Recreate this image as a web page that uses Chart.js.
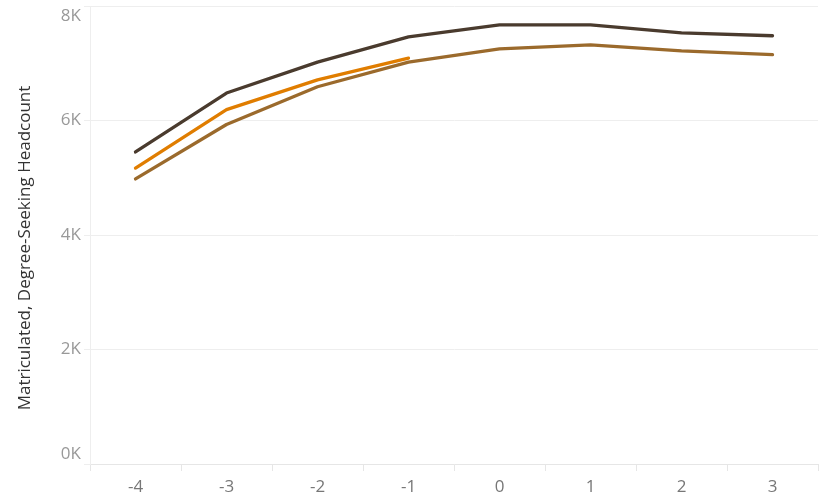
<!DOCTYPE html>
<html>
<head>
<meta charset="utf-8">
<script src="https://cdn.jsdelivr.net/npm/chart.js@4/dist/chart.umd.min.js"></script>
<style>
	body { margin: 0; background: #fff; }
	#mycanvas { display: block; }
</style>
</head>
<body>
<canvas id="mycanvas" width="821" height="495"></canvas>
<script>
// years relative to the reference year, and headcount for each group
var years = ["-4", "-3", "-2", "-1", "0", "1", "2", "3"];
var darkSeries = [5450, 6480, 7020, 7460, 7670, 7670, 7530, 7480];
var orangeSeries = [5170, 6190, 6710, 7090, null, null, null, null];
var brownSeries = [4980, 5930, 6590, 7020, 7250, 7320, 7215, 7150];
var yTicks = [0, 2000, 4000, 6000, 8000];
var yTitle = "Matriculated, Degree-Seeking Headcount";

// y axis title, centred on the whole pane like the original
var yTitlePlugin = {
	id: 'yTitle',
	afterDraw: function(chart) {
		var c = chart.ctx;
		c.save();
		c.translate(25, 248);
		c.rotate(-Math.PI / 2);
		c.font = "17px 'Open Sans'";
		c.fillStyle = "#333";
		c.textAlign = "center";
		c.textBaseline = "middle";
		c.fillText(yTitle, 0, 0);
		c.restore();
	}
};

var ctx = document.getElementById("mycanvas");

var lineChart = new Chart(ctx, {
	type: 'line',
	data: {
		labels: years,
		datasets: [{
			label: 'Dark',
			data: darkSeries,
			borderColor: "#4a3b2e",
			borderWidth: 3.3
		}, {
			label: 'Orange',
			data: orangeSeries,
			borderColor: "#e07d00",
			borderWidth: 3.3
		}, {
			label: 'Brown',
			data: brownSeries,
			borderColor: "#9b6a2c",
			borderWidth: 3.3
		}]
	},
	plugins: [yTitlePlugin],
	options: {
		responsive: false,
		animation: false,
		events: [],
		elements: {
			point: { radius: 0 },
			line: { tension: 0, borderCapStyle: 'round', borderJoinStyle: 'round' }
		},
		layout: {
			padding: { top: 6, right: 3, bottom: 0, left: 0 }
		},
		plugins: {
			legend: { display: false },
			tooltip: { enabled: false }
		},
		scales: {
			x: {
				offset: true,
				afterFit: function(scale) {
					scale.height = 31;
				},
				grid: {
					offset: true,
					drawOnChartArea: false,
					tickLength: 7,
					color: "#e6e6e6"
				},
				border: { color: "#e6e6e6" },
				ticks: {
					color: "#777",
					padding: 6,
					font: { family: "Open Sans", size: 17 }
				}
			},
			y: {
				min: 0,
				max: 8000,
				afterBuildTicks: function(scale) {
					scale.ticks = yTicks.map(function(v) { return { value: v }; });
				},
				afterFit: function(scale) {
					scale.width = 90;
					scale.paddingTop = 0;
					scale.paddingBottom = 0;
				},
				grid: {
					color: "#eeeeee",
					tickLength: 6
				},
				border: { color: "#eeeeee" },
				ticks: {
					color: "#999",
					padding: 3,
					font: { family: "Open Sans", size: 17 },
					// end labels are nudged inside the pane, as in the original
					callback: function(v) {
						var s = (v / 1000) + "K";
						if (v === 8000) return ["", s];
						if (v === 0) return [s, ""];
						return s;
					}
				}
			}
		}
	}
});
</script>
</body>
</html>
